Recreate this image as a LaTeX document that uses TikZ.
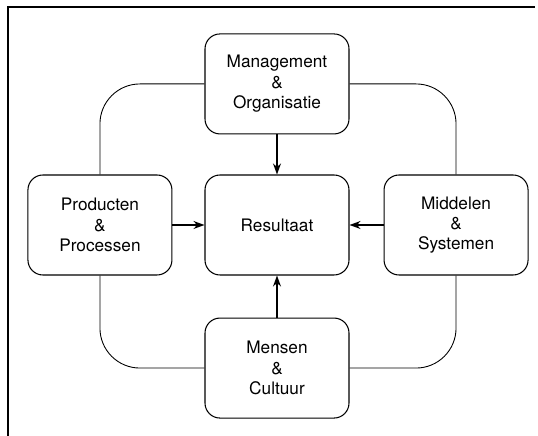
\documentclass[tikz,border=0pt]{standalone}
\usepackage{fontspec}
\setmainfont{TeX Gyre Heros}
\usetikzlibrary{positioning,arrows.meta}

\tikzstyle{block} = [rectangle, draw, rounded corners=0.3cm, fill=white, align=center, text centered, minimum width=2.88cm, minimum height=2cm, line width=0.6pt, font=\fontsize{9.8}{11.6}\selectfont]
\tikzstyle{link} = [draw, line width=0.5pt, rounded corners=0.8cm]
\tikzstyle{arr} = [draw, line width=0.8pt, -{Stealth[length=2.2mm, width=1.6mm]}]

\begin{document}
\begin{tikzpicture}
        \useasboundingbox (0,0) rectangle (10.76,8.72);
        % frame
        \draw[line width=0.9pt] (0.16,0) -- (0.16,8.58) -- (10.7,8.58);
        % model
        \node[block] (res) at (5.54,4.22) {Resultaat};
        \node[block, above=0.8cm of res] (mgmt) {Management\\\&\\Organisatie};
        \node[block, left=0.64cm of res] (prod) {Producten\\\&\\Processen};
        \node[block, right=0.68cm of res] (midd) {Middelen\\\&\\Systemen};
        \node[block, below=0.84cm of res] (mens) {Mensen\\\&\\Cultuur};
        % ring
        \draw[link] (mgmt.west) -| (prod.north);
        \draw[link] (prod.south) |- (mens.west);
        \draw[link] (mens.east) -| (midd.south);
        \draw[link] (midd.north) |- (mgmt.east);
        % arrows
        \draw[arr] (mgmt) -- (res);
        \draw[arr] (prod) -- (res);
        \draw[arr] (midd) -- (res);
        \draw[arr] (mens) -- (res);
\end{tikzpicture}
\end{document}
